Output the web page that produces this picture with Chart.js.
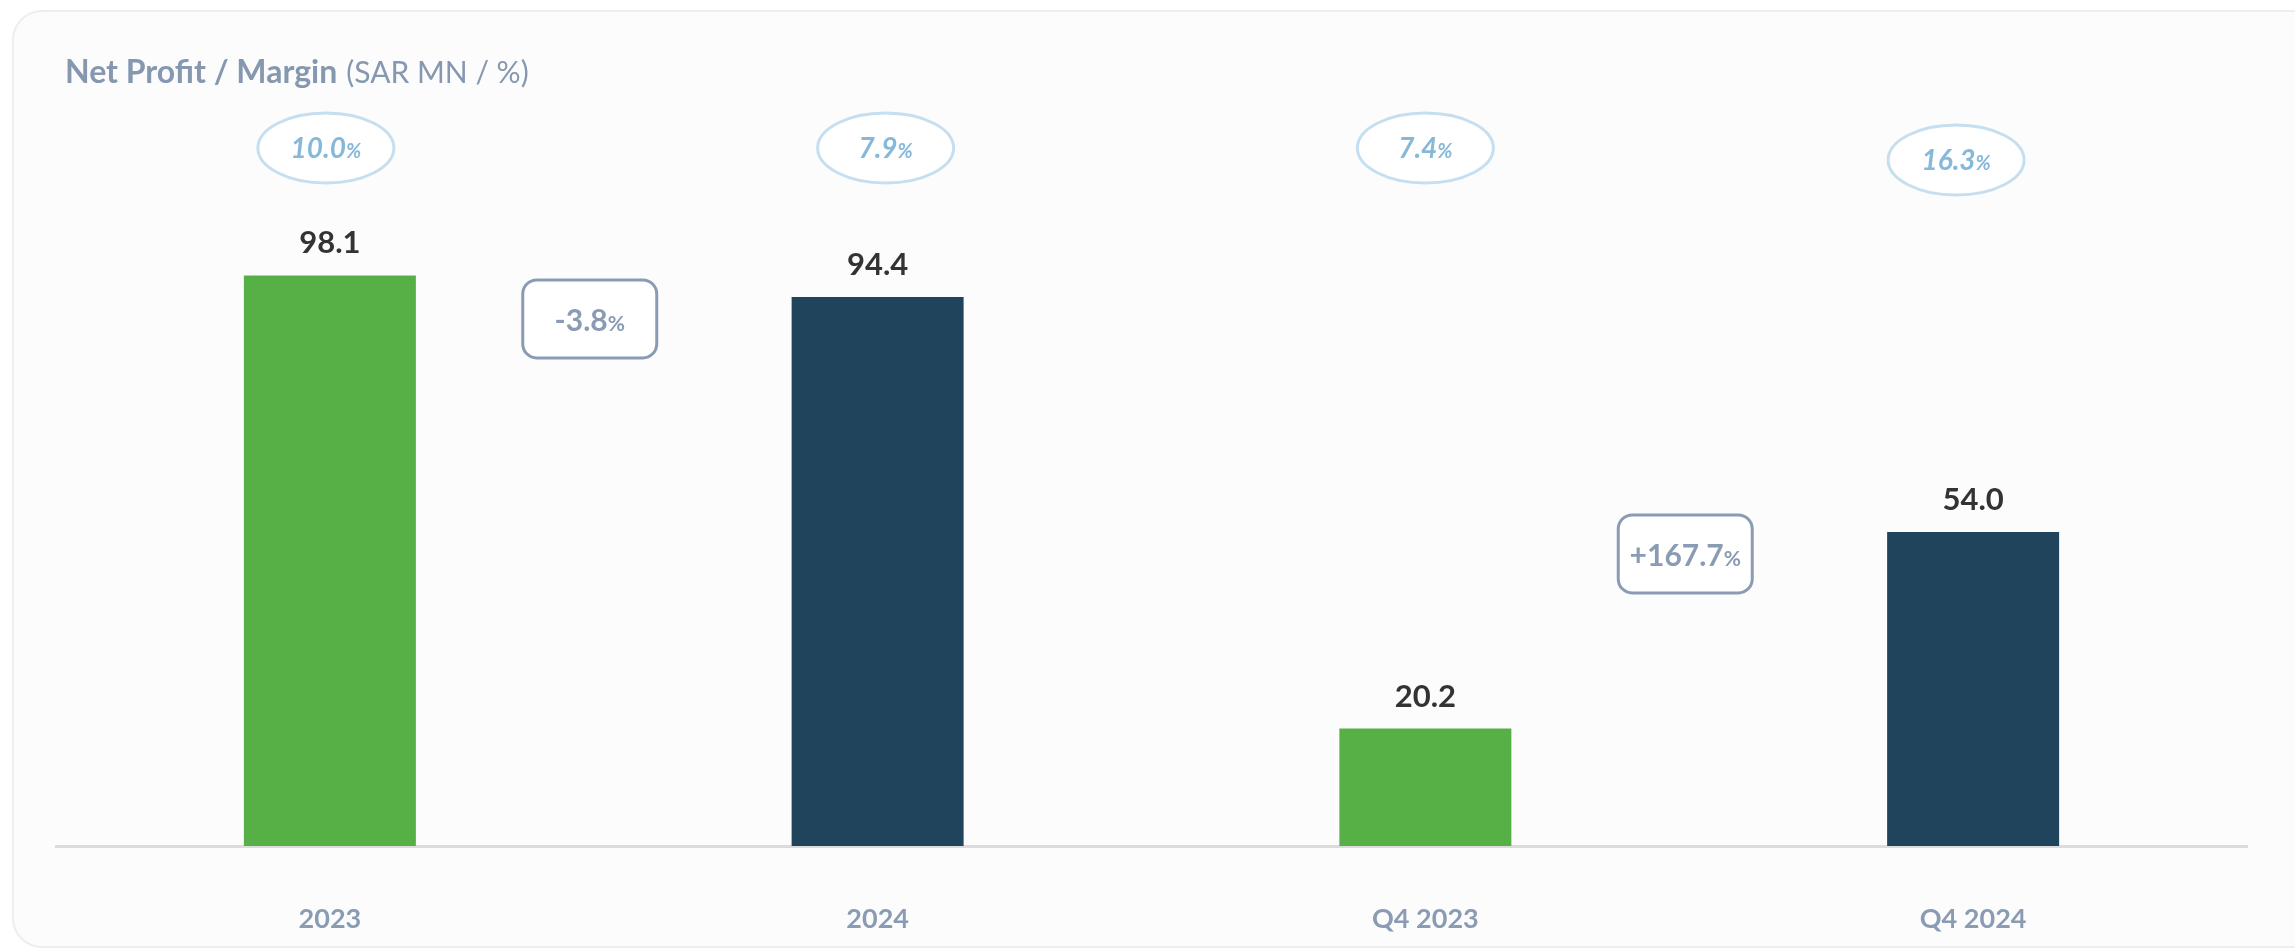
<!DOCTYPE html>
<html lang="en">
<head>
  <meta charset="UTF-8">
  <title>Net Profit / Margin</title>
  <script src="https://cdn.jsdelivr.net/npm/chart.js"></script>
  <style>
    body {
      margin: 0;
      background: #ffffff;
      font-family: Lato, sans-serif;
    }
    .card {
      position: absolute;
      left: 12px;
      top: 10px;
      width: 2400px;
      height: 934px;
      background: #fcfcfd;
      border: 2px solid #eceef1;
      border-radius: 30px;
    }
    .wrap {
      position: absolute;
      left: 0;
      top: 0;
      width: 2295px;
      height: 950px;
    }
  </style>
</head>
<body>
  <div class="card"></div>
  <div class="wrap"><canvas id="netChart"></canvas></div>

  <script>
    const categories = ['2023', '2024', 'Q4 2023', 'Q4 2024'];
    const netProfit = [98.1, 94.4, 20.2, 54.0];   // SAR MN
    const margins = [10.0, 7.9, 7.4, 16.3];       // %
    const changes = [-3.8, 167.7];                // 2023->2024, Q4 2023->Q4 2024

    const green = '#56b046';
    const navy = '#20445c';
    const grey = '#8a9bb4';

    // small nudges of the margin bubbles, as in the original
    const bubbleShift = [[-4, 0], [8, 0], [0, 0], [-17, 12]];

    function drawSplit(ctx, big, small, bigFont, smallFont, cx, baseline) {
      ctx.font = bigFont;
      const w1 = ctx.measureText(big).width;
      ctx.font = smallFont;
      const w2 = ctx.measureText(small).width;
      let x = cx - (w1 + w2) / 2;
      ctx.textAlign = 'left';
      ctx.textBaseline = 'alphabetic';
      ctx.font = bigFont;
      ctx.fillText(big, x, baseline);
      ctx.font = smallFont;
      ctx.fillText(small, x + w1, baseline);
    }

    const annotate = {
      id: 'annotate',
      afterDatasetsDraw(chart) {
        const ctx = chart.ctx;
        const bars = chart.getDatasetMeta(0).data;
        const top = chart.chartArea.top;
        ctx.save();

        // title
        ctx.textAlign = 'left';
        ctx.textBaseline = 'alphabetic';
        ctx.fillStyle = '#8598b0';
        ctx.font = 'bold 32px Lato';
        const t1 = 'Net Profit / Margin';
        ctx.fillText(t1, 65, 83);
        const tw = ctx.measureText(t1).width;
        ctx.font = '30px Lato';
        ctx.fillText('(SAR MN / %)', 65 + tw + 9, 83);

        bars.forEach((bar, i) => {
          // value above bar
          ctx.fillStyle = '#333333';
          ctx.font = 'bold 31px Lato';
          ctx.textAlign = 'center';
          ctx.textBaseline = 'alphabetic';
          ctx.fillText(netProfit[i].toFixed(1), bar.x, bar.y - 22);

          // margin bubble
          const cx = bar.x + bubbleShift[i][0];
          const cy = top + bubbleShift[i][1];
          ctx.beginPath();
          ctx.ellipse(cx, cy, 68, 35, 0, 0, Math.PI * 2);
          ctx.fillStyle = '#ffffff';
          ctx.fill();
          ctx.lineWidth = 3;
          ctx.strokeStyle = '#c6dff0';
          ctx.stroke();
          ctx.fillStyle = '#86b8d9';
          drawSplit(ctx, margins[i].toFixed(1), '%', 'italic bold 28px Lato', 'italic bold 20px Lato', cx, cy + 10);
        });

        // change boxes between each pair
        changes.forEach((c, k) => {
          const a = bars[k * 2], b = bars[k * 2 + 1];
          const cx = (a.x + b.x) / 2 - 14;
          const cy = b.y + 22;
          const w = 134, h = 78;
          ctx.beginPath();
          ctx.roundRect(cx - w / 2, cy - h / 2, w, h, 14);
          ctx.fillStyle = '#ffffff';
          ctx.fill();
          ctx.lineWidth = 3;
          ctx.strokeStyle = grey;
          ctx.stroke();
          ctx.fillStyle = grey;
          const txt = (c > 0 ? '+' : '') + c.toFixed(1);
          drawSplit(ctx, txt, '%', 'bold 30px Lato', 'bold 21px Lato', cx, cy + 12);
        });

        ctx.restore();
      }
    };

    const chart = new Chart(document.getElementById('netChart'), {
      type: 'bar',
      data: {
        labels: categories,
        datasets: [{
          data: netProfit,
          backgroundColor: [green, navy, green, navy],
          borderWidth: 0,
          categoryPercentage: 1,
          barPercentage: 0.314
        }]
      },
      options: {
        responsive: true,
        maintainAspectRatio: false,
        animation: false,
        layout: {
          padding: { left: 56, right: 48, top: 148, bottom: 16 }
        },
        plugins: {
          legend: { display: false },
          tooltip: { enabled: false }
        },
        scales: {
          x: {
            grid: { display: false, drawTicks: false },
            border: { display: true, color: '#dcdcdc', width: 3 },
            ticks: {
              color: grey,
              padding: 57,
              font: { family: 'Lato', size: 27, weight: 'bold' }
            },
            afterFit(scale) {
              scale.height = 88;
            }
          },
          y: {
            display: false,
            min: 0,
            max: 120
          }
        }
      },
      plugins: [annotate]
    });
  </script>
</body>
</html>
